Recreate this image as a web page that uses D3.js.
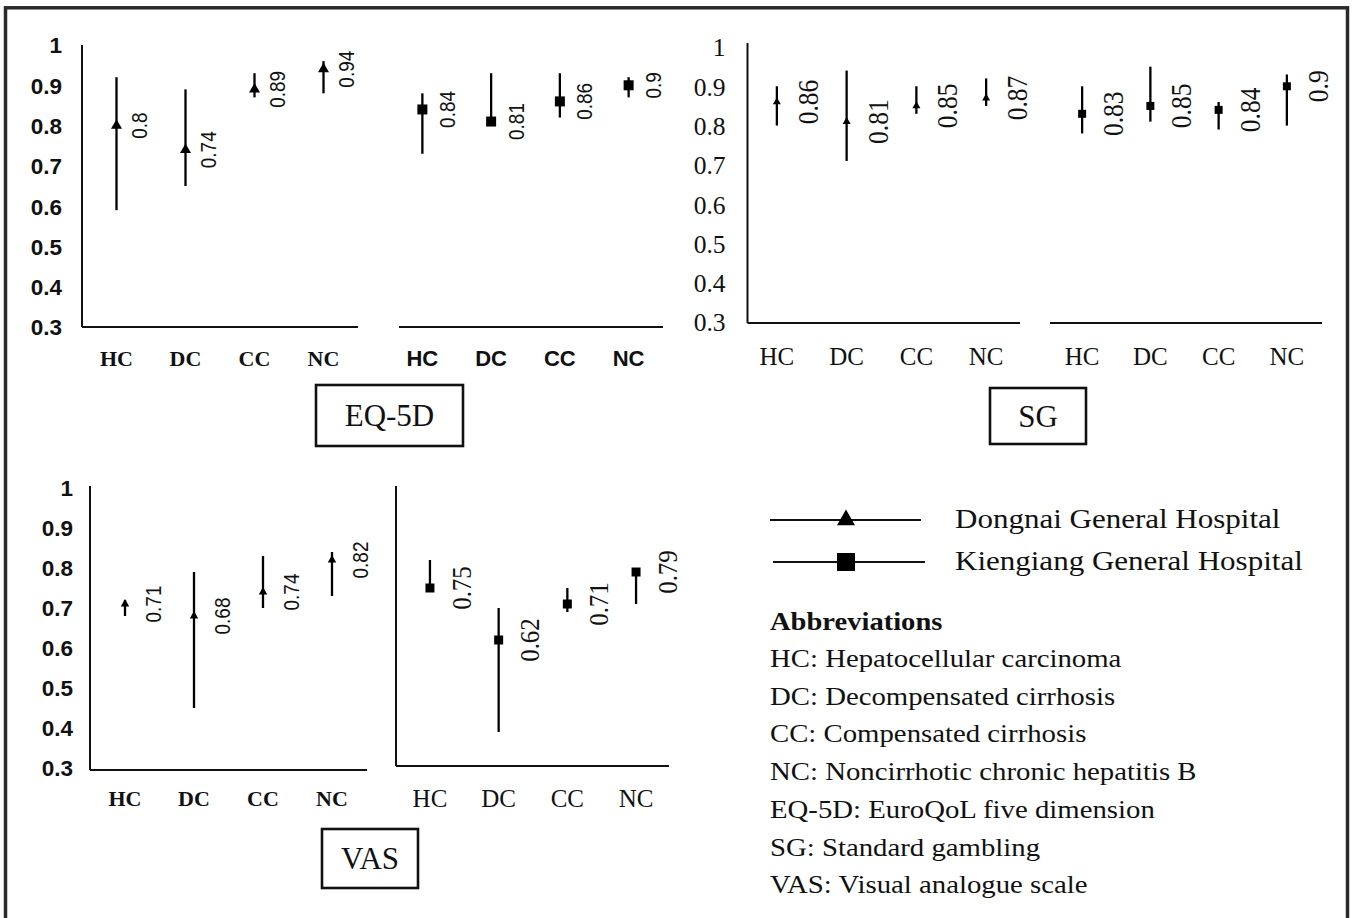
<!DOCTYPE html>
<html>
<head>
<meta charset="utf-8">
<script src="https://cdnjs.cloudflare.com/ajax/libs/d3/7.8.5/d3.min.js"></script>
<style>
  body { margin: 0; background: #fff; }
  svg { display: block; }
</style>
</head>
<body>
<div id="chart"></div>
<script>
const categories = ["HC", "DC", "CC", "NC"];
const hospitals = ["Dongnai General Hospital", "Kiengiang General Hospital"];
const yTicks = [0.3, 0.4, 0.5, 0.6, 0.7, 0.8, 0.9, 1];
const yTickLabels = ["0.3", "0.4", "0.5", "0.6", "0.7", "0.8", "0.9", "1"];

// EQ-5D
const eqDongnaiMean = [0.80, 0.74, 0.89, 0.94];
const eqDongnaiLow = [0.59, 0.65, 0.87, 0.88];
const eqDongnaiHigh = [0.92, 0.89, 0.93, 0.96];
const eqKiengiangMean = [0.84, 0.81, 0.86, 0.90];
const eqKiengiangLow = [0.73, 0.80, 0.82, 0.87];
const eqKiengiangHigh = [0.88, 0.93, 0.93, 0.92];

// SG
const sgDongnaiMean = [0.86, 0.81, 0.85, 0.87];
const sgDongnaiLow = [0.80, 0.71, 0.83, 0.85];
const sgDongnaiHigh = [0.90, 0.94, 0.90, 0.92];
const sgKiengiangMean = [0.83, 0.85, 0.84, 0.90];
const sgKiengiangLow = [0.78, 0.81, 0.79, 0.80];
const sgKiengiangHigh = [0.90, 0.95, 0.86, 0.93];

// VAS
const vasDongnaiMean = [0.71, 0.68, 0.74, 0.82];
const vasDongnaiLow = [0.68, 0.45, 0.70, 0.73];
const vasDongnaiHigh = [0.72, 0.79, 0.83, 0.84];
const vasKiengiangMean = [0.75, 0.62, 0.71, 0.79];
const vasKiengiangLow = [0.75, 0.39, 0.69, 0.71];
const vasKiengiangHigh = [0.82, 0.70, 0.75, 0.79];

const abbreviations = [
  "HC: Hepatocellular carcinoma",
  "DC: Decompensated cirrhosis",
  "CC: Compensated cirrhosis",
  "NC: Noncirrhotic chronic hepatitis B",
  "EQ-5D: EuroQoL five dimension",
  "SG: Standard gambling",
  "VAS: Visual analogue scale"
];

const SERIF = "'Liberation Serif', 'Times New Roman', serif";
const SANS = "'Liberation Sans', Arial, sans-serif";

const svg = d3.select("#chart").append("svg")
  .attr("width", 1352)
  .attr("height", 918);

svg.append("rect").attr("width", 1352).attr("height", 918).attr("fill", "#fff");

// outer frame (bottom edge is cut off)
svg.append("rect")
  .attr("x", 5.5).attr("y", 7.8)
  .attr("width", 1342).attr("height", 980)
  .attr("fill", "none")
  .attr("stroke", "#2a2a2a")
  .attr("stroke-width", 3.5);

function drawPanel(p) {
  const x = d3.scaleBand().domain(categories).range(p.xRange);
  const y = d3.scaleLinear().domain([0.3, 1]).range(p.yRange);
  const cx = d => x(d.c) + x.bandwidth() / 2;
  const g = svg.append("g");

  if (p.yAxisX != null) {
    g.append("line")
      .attr("x1", p.yAxisX).attr("x2", p.yAxisX)
      .attr("y1", p.yAxisTop).attr("y2", p.xLineY)
      .attr("stroke", "#111").attr("stroke-width", 2);
  }
  if (p.tickFont) {
    const ya = g.append("g")
      .attr("transform", `translate(${p.yAxisX},0)`)
      .call(d3.axisLeft(y).tickValues(yTicks).tickSize(0).tickPadding(p.tickPad)
        .tickFormat((d, i) => yTickLabels[i]));
    ya.select(".domain").remove();
    ya.attr("font-family", p.tickFont.family)
      .attr("font-size", p.tickFont.size)
      .attr("font-weight", p.tickFont.weight);
    ya.selectAll("text").attr("dy", "0.35em").attr("fill", "#111");
  }

  g.append("line")
    .attr("x1", p.xLine[0]).attr("x2", p.xLine[1])
    .attr("y1", p.xLineY).attr("y2", p.xLineY)
    .attr("stroke", "#111").attr("stroke-width", 2);

  const xa = g.append("g")
    .attr("transform", `translate(0,${p.catY})`)
    .call(d3.axisBottom(x).tickSize(0).tickPadding(0));
  xa.select(".domain").remove();
  xa.attr("font-family", p.catFont.family)
    .attr("font-size", p.catFont.size)
    .attr("font-weight", p.catFont.weight);
  xa.selectAll("text").attr("y", 0).attr("dy", "0.35em").attr("fill", "#111");

  const rows = categories.map((c, i) => ({ c, m: p.mean[i], lo: p.low[i], hi: p.high[i] }));

  g.selectAll(".err").data(rows).join("line")
    .attr("class", "err")
    .attr("x1", cx).attr("x2", cx)
    .attr("y1", d => y(d.lo)).attr("y2", d => y(d.hi))
    .attr("stroke", "#000").attr("stroke-width", 2.3);

  g.selectAll(".mk").data(rows).join("path")
    .attr("class", "mk")
    .attr("d", d3.symbol(p.symbol, p.symSize))
    .attr("transform", d => `translate(${cx(d)},${y(d.m)})`)
    .attr("fill", "#000");

  g.selectAll(".lbl").data(rows).join("text")
    .attr("class", "lbl")
    .attr("transform", d => `translate(${cx(d) + p.labelDx},${y(d.m)}) rotate(-90) scale(1,1.12)`)
    .attr("text-anchor", "middle")
    .attr("dy", "0.35em")
    .attr("font-family", p.labelFont.family)
    .attr("font-size", p.labelFont.size)
    .attr("fill", "#111")
    .text(d => String(d.m));
}

const triSize = s => Math.sqrt(3) / 4 * s * s;

// EQ-5D, Dongnai
drawPanel({
  xRange: [82, 358], yRange: [327, 45],
  yAxisX: 82, yAxisTop: 45, tickPad: 20,
  tickFont: { family: SANS, size: 22.5, weight: "bold" },
  xLine: [82, 358], xLineY: 327, catY: 358,
  catFont: { family: SERIF, size: 22, weight: "bold" },
  mean: eqDongnaiMean, low: eqDongnaiLow, high: eqDongnaiHigh,
  symbol: d3.symbolTriangle, symSize: triSize(11),
  labelDx: 23, labelFont: { family: SANS, size: 19 }
});
// EQ-5D, Kiengiang
drawPanel({
  xRange: [388, 663], yRange: [327, 45],
  yAxisX: null,
  xLine: [399, 663], xLineY: 327, catY: 358,
  catFont: { family: SANS, size: 22, weight: "bold" },
  mean: eqKiengiangMean, low: eqKiengiangLow, high: eqKiengiangHigh,
  symbol: d3.symbolSquare, symSize: 100,
  labelDx: 25, labelFont: { family: SANS, size: 19 }
});
// SG, Dongnai
drawPanel({
  xRange: [742, 1021], yRange: [322, 47],
  yAxisX: 747.5, yAxisTop: 43, tickPad: 22,
  tickFont: { family: SERIF, size: 25.5, weight: "normal" },
  xLine: [747.5, 1020], xLineY: 323, catY: 356,
  catFont: { family: SERIF, size: 25, weight: "normal" },
  mean: sgDongnaiMean, low: sgDongnaiLow, high: sgDongnaiHigh,
  symbol: d3.symbolTriangle, symSize: triSize(8),
  labelDx: 31, labelFont: { family: SERIF, size: 25.5 }
});
// SG, Kiengiang
drawPanel({
  xRange: [1048, 1321], yRange: [322, 47],
  yAxisX: null,
  xLine: [1050, 1322], xLineY: 323, catY: 356,
  catFont: { family: SERIF, size: 25, weight: "normal" },
  mean: sgKiengiangMean, low: sgKiengiangLow, high: sgKiengiangHigh,
  symbol: d3.symbolSquare, symSize: 64,
  labelDx: 31, labelFont: { family: SERIF, size: 25.5 }
});
// VAS, Dongnai
drawPanel({
  xRange: [90.5, 366.5], yRange: [768, 488],
  yAxisX: 90, yAxisTop: 486, tickPad: 17,
  tickFont: { family: SANS, size: 22.5, weight: "bold" },
  xLine: [90, 367], xLineY: 770, catY: 798,
  catFont: { family: SERIF, size: 22, weight: "bold" },
  mean: vasDongnaiMean, low: vasDongnaiLow, high: vasDongnaiHigh,
  symbol: d3.symbolTriangle, symSize: triSize(8.5),
  labelDx: 29, labelFont: { family: SANS, size: 19 }
});
// VAS, Kiengiang
drawPanel({
  xRange: [395.6, 670.4], yRange: [768, 488],
  yAxisX: 396, yAxisTop: 486,
  xLine: [396, 669], xLineY: 766, catY: 798,
  catFont: { family: SERIF, size: 25, weight: "normal" },
  mean: vasKiengiangMean, low: vasKiengiangLow, high: vasKiengiangHigh,
  symbol: d3.symbolSquare, symSize: 81,
  labelDx: 31, labelFont: { family: SERIF, size: 25 }
});

// measure title boxes
const titleBoxes = [
  { text: "EQ-5D", x: 316, y: 385, w: 147, h: 61 },
  { text: "SG", x: 990, y: 388, w: 96, h: 56 },
  { text: "VAS", x: 322, y: 829, w: 96, h: 59 }
];
const tb = svg.append("g").selectAll("g").data(titleBoxes).join("g");
tb.append("rect")
  .attr("x", d => d.x).attr("y", d => d.y)
  .attr("width", d => d.w).attr("height", d => d.h)
  .attr("fill", "none").attr("stroke", "#111").attr("stroke-width", 2.6);
tb.append("text")
  .attr("x", d => d.x + d.w / 2).attr("y", d => d.y + d.h / 2)
  .attr("dy", "0.35em")
  .attr("text-anchor", "middle")
  .attr("font-family", SERIF).attr("font-size", 31)
  .attr("fill", "#111")
  .text(d => d.text);

// legend
const legendSymbols = [d3.symbolTriangle, d3.symbolSquare];
const legendSizes = [triSize(18), 324];
const lg = svg.append("g").selectAll("g").data(hospitals).join("g")
  .attr("transform", (d, i) => `translate(0,${[520, 562][i]})`);
lg.append("line")
  .attr("x1", (d, i) => [770, 773][i]).attr("x2", (d, i) => [921, 925][i])
  .attr("y1", 0).attr("y2", 0)
  .attr("stroke", "#111").attr("stroke-width", 2);
lg.append("path")
  .attr("d", (d, i) => d3.symbol(legendSymbols[i], legendSizes[i])())
  .attr("transform", "translate(846,0)")
  .attr("fill", "#000");
lg.append("text")
  .attr("transform", "translate(955,0) scale(1.1,1)")
  .attr("dy", "0.3em")
  .attr("font-family", SERIF).attr("font-size", 28.2)
  .attr("fill", "#111")
  .text(d => d);

svg.append("text")
  .attr("transform", "translate(770,630) scale(1.12,1)")
  .attr("font-family", SERIF).attr("font-size", 25.5).attr("font-weight", "bold")
  .attr("fill", "#111")
  .text("Abbreviations");

svg.append("g").selectAll("text").data(abbreviations).join("text")
  .attr("transform", (d, i) => `translate(770,${667 + i * 37.7}) scale(1.12,1)`)
  .attr("font-family", SERIF).attr("font-size", 25.7)
  .attr("fill", "#111")
  .text(d => d);
</script>
</body>
</html>
